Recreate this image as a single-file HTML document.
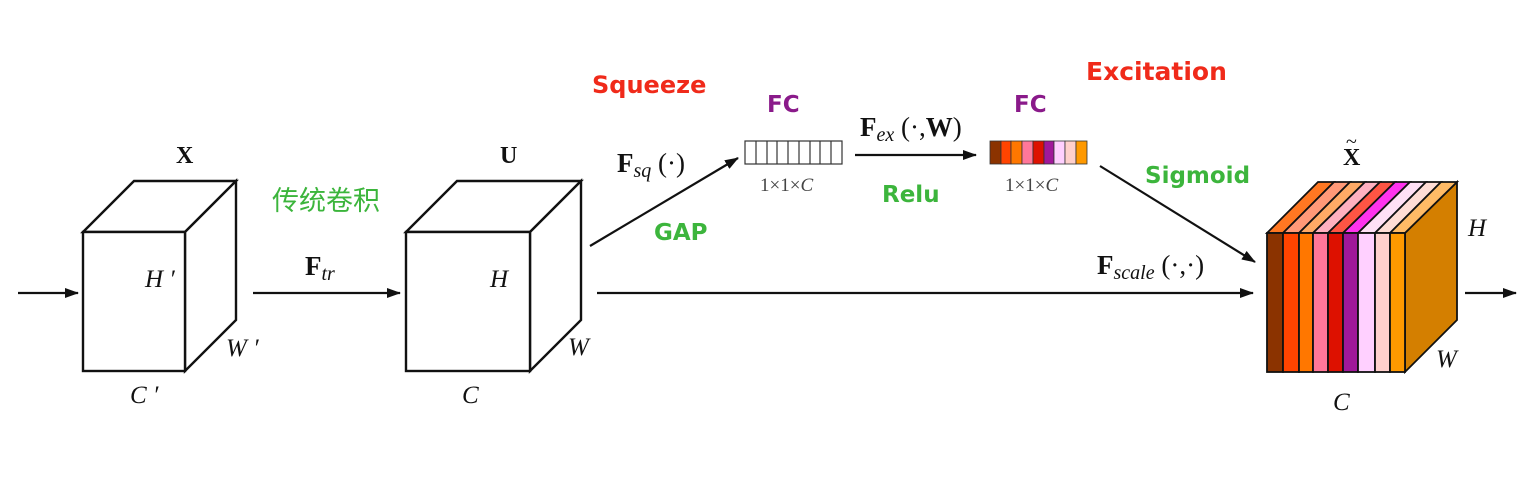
<!DOCTYPE html>
<html><head><meta charset="utf-8"><style>
html,body{margin:0;padding:0;background:#fff;}
svg{display:block}
.t{font-family:"Liberation Serif",serif;}
.c{font-family:"DejaVu Sans","Liberation Sans","WenQuanYi Zen Hei",sans-serif;font-weight:bold;}
</style></head><body>
<svg width="1535" height="498" viewBox="0 0 1535 498" xmlns="http://www.w3.org/2000/svg">
<defs><marker id="a" markerWidth="14" markerHeight="10" refX="13" refY="5" orient="auto" markerUnits="userSpaceOnUse"><path d="M0,0 L14,5 L0,10 Z" fill="#111"/></marker></defs>
<g stroke="#111" stroke-width="2.4" fill="#fff" stroke-linejoin="miter">
<polygon points="83,232 134,181 236,181 185,232"/>
<polygon points="185,232 236,181 236,320 185,371"/>
<rect x="83" y="232" width="102" height="139"/>
<polygon points="406,232 457,181 581,181 530,232"/>
<polygon points="530,232 581,181 581,320 530,371"/>
<rect x="406" y="232" width="124" height="139"/>
</g>
<g stroke="#111" stroke-width="2.2" fill="none">
<line x1="18" y1="293" x2="78" y2="293" marker-end="url(#a)"/>
<line x1="253" y1="293" x2="400" y2="293" marker-end="url(#a)"/>
<line x1="597" y1="293" x2="1253" y2="293" marker-end="url(#a)"/>
<line x1="590" y1="246" x2="738" y2="158" marker-end="url(#a)"/>
<line x1="855" y1="155" x2="976" y2="155" marker-end="url(#a)"/>
<line x1="1100" y1="166" x2="1255" y2="262" marker-end="url(#a)"/>
<line x1="1465" y1="293" x2="1516" y2="293" marker-end="url(#a)"/>
</g>
<g stroke="#333" stroke-width="1.2" fill="#fff">
<rect x="745" y="141" width="97" height="23"/>
<line x1="756" y1="141" x2="756" y2="164"/><line x1="767" y1="141" x2="767" y2="164"/><line x1="777" y1="141" x2="777" y2="164"/><line x1="788" y1="141" x2="788" y2="164"/><line x1="799" y1="141" x2="799" y2="164"/><line x1="810" y1="141" x2="810" y2="164"/><line x1="820" y1="141" x2="820" y2="164"/><line x1="831" y1="141" x2="831" y2="164"/>
</g>
<g stroke="#333" stroke-width="0.8">
<rect x="990" y="141" width="11" height="23" fill="#8B3300"/>
<rect x="1001" y="141" width="10" height="23" fill="#FF4400"/>
<rect x="1011" y="141" width="11" height="23" fill="#FF7700"/>
<rect x="1022" y="141" width="11" height="23" fill="#FF7799"/>
<rect x="1033" y="141" width="11" height="23" fill="#DD1100"/>
<rect x="1044" y="141" width="10" height="23" fill="#A0189A"/>
<rect x="1054" y="141" width="11" height="23" fill="#FFD0FF"/>
<rect x="1065" y="141" width="11" height="23" fill="#FFD0CC"/>
<rect x="1076" y="141" width="11" height="23" fill="#FF9900"/>
</g>
<g stroke="#111" stroke-width="1.8">
<polygon points="1405,233 1457,182 1457,320 1405,372" fill="#D47F00"/>
<polygon points="1267,233 1318,182 1334,182 1283,233" fill="#FF7722"/>
<polygon points="1283,233 1334,182 1350,182 1299,233" fill="#FF9977"/>
<polygon points="1299,233 1350,182 1365,182 1313,233" fill="#FFAA66"/>
<polygon points="1313,233 1365,182 1380,182 1328,233" fill="#FFB0C0"/>
<polygon points="1328,233 1380,182 1395,182 1343,233" fill="#FF5544"/>
<polygon points="1343,233 1395,182 1410,182 1358,233" fill="#FF33EE"/>
<polygon points="1358,233 1410,182 1426,182 1375,233" fill="#FFE0F5"/>
<polygon points="1375,233 1426,182 1441,182 1390,233" fill="#FFDDD5"/>
<polygon points="1390,233 1441,182 1457,182 1405,233" fill="#FFBB66"/>
<rect x="1267" y="233" width="16" height="139" fill="#8B3300"/>
<rect x="1283" y="233" width="16" height="139" fill="#FF4400"/>
<rect x="1299" y="233" width="14" height="139" fill="#FF7700"/>
<rect x="1313" y="233" width="15" height="139" fill="#FF7799"/>
<rect x="1328" y="233" width="15" height="139" fill="#DD1100"/>
<rect x="1343" y="233" width="15" height="139" fill="#A0189A"/>
<rect x="1358" y="233" width="17" height="139" fill="#FFD0FF"/>
<rect x="1375" y="233" width="15" height="139" fill="#FFD0CC"/>
<rect x="1390" y="233" width="15" height="139" fill="#FF9900"/>
</g>
<g class="t" fill="#111">
<text x="176" y="163" font-size="24" font-weight="bold">X</text>
<text x="500" y="163" font-size="24" font-weight="bold">U</text>
<text x="1343" y="165" font-size="24" font-weight="bold">X</text>
<text x="1346" y="148" font-size="20">~</text>
<text x="145" y="287" font-size="25" font-style="italic">H ′</text>
<text x="226" y="356" font-size="25" font-style="italic">W ′</text>
<text x="130" y="403" font-size="25" font-style="italic">C ′</text>
<text x="490" y="287" font-size="25" font-style="italic">H</text>
<text x="568" y="355" font-size="25" font-style="italic">W</text>
<text x="462" y="403" font-size="25" font-style="italic">C</text>
<text x="1468" y="236" font-size="25" font-style="italic">H</text>
<text x="1436" y="367" font-size="25" font-style="italic">W</text>
<text x="1333" y="410" font-size="25" font-style="italic">C</text>
<text x="305" y="275" font-size="27" font-weight="bold">F<tspan font-size="20" font-weight="normal" font-style="italic" dy="5">tr</tspan></text>
<text x="617" y="172" font-size="27" font-weight="bold">F<tspan font-size="20" font-weight="normal" font-style="italic" dy="5">sq</tspan><tspan font-weight="normal" dy="-5"> (·)</tspan></text>
<text x="860" y="136" font-size="27" font-weight="bold">F<tspan font-size="20" font-weight="normal" font-style="italic" dy="5">ex</tspan><tspan font-weight="normal" dy="-5"> (·,</tspan>W<tspan font-weight="normal">)</tspan></text>
<text x="1097" y="274" font-size="27" font-weight="bold">F<tspan font-size="20" font-weight="normal" font-style="italic" dy="5">scale</tspan><tspan font-weight="normal" dy="-5"> (·,·)</tspan></text>
<text x="760" y="191" font-size="19" fill="#444">1×1×<tspan font-style="italic">C</tspan></text>
<text x="1005" y="191" font-size="19" fill="#444">1×1×<tspan font-style="italic">C</tspan></text>
</g>
<g class="c">
<text x="592" y="93" fill="#F02A1A" font-size="24">Squeeze</text>
<text x="1086" y="80" fill="#F02A1A" font-size="25">Excitation</text>
<text x="767" y="112" fill="#8A1A8A" font-size="23">FC</text>
<text x="1014" y="112" fill="#8A1A8A" font-size="23">FC</text>
<text x="882" y="202" fill="#3CB53C" font-size="23">Relu</text>
<text x="654" y="240" fill="#3CB53C" font-size="23">GAP</text>
<text x="1145" y="183" fill="#3CB53C" font-size="23">Sigmoid</text>
<text x="272" y="210" fill="#3CB53C" font-size="27" font-weight="normal" font-family="'Noto Sans CJK SC',sans-serif">传统卷积</text>
</g>
</svg>
</body></html>
